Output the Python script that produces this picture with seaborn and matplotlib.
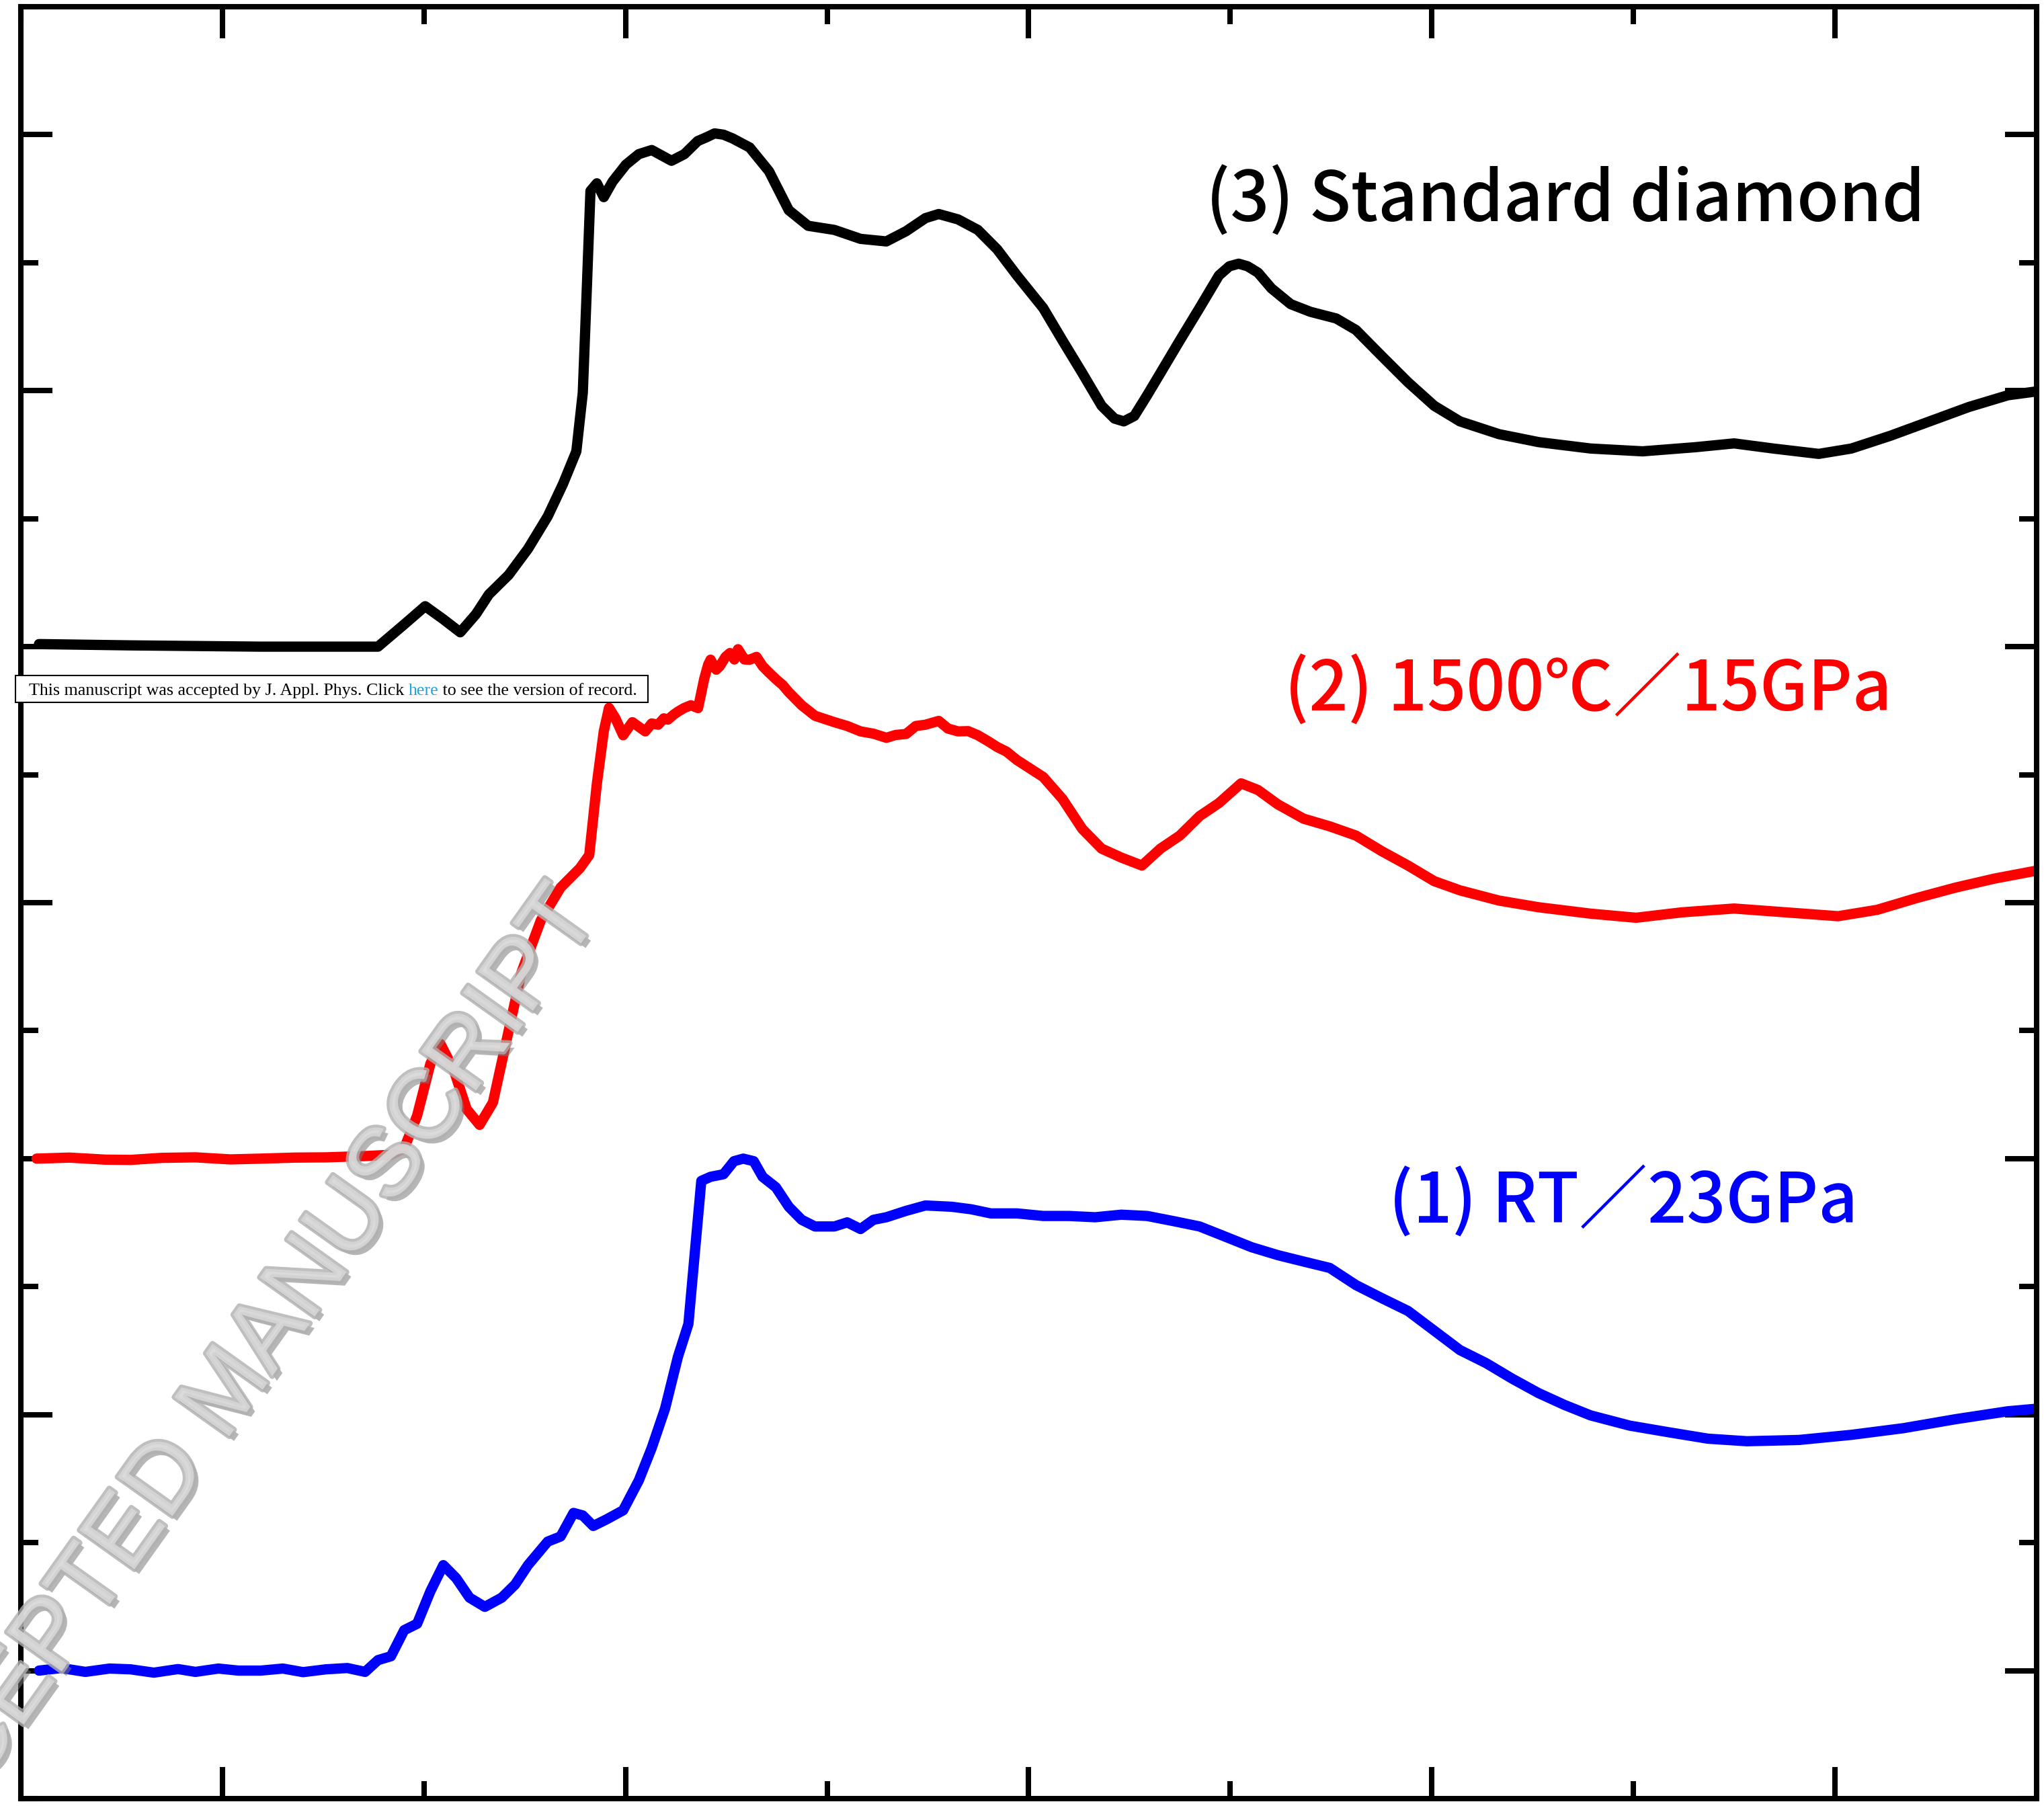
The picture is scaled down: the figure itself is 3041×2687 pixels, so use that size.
"""
C K-edge XANES of diamond samples, offset stack (3 spectra).
"""

import matplotlib

matplotlib.use("Agg")
import matplotlib.patheffects as pe
import matplotlib.pyplot as plt
import pandas as pd
import seaborn as sns
from matplotlib.patches import Rectangle
from matplotlib.ticker import MultipleLocator

# ── Data (photon energy in eV, normalised intensity) ─────────────────────────

STD_E = [275.45, 277.72, 280.95, 283.86, 284.51, 285.03, 285.48, 285.90, 286.29,
         286.61, 287.10, 287.58, 288.07, 288.45, 288.78, 288.94, 289.04, 289.13,
         289.29, 289.46, 289.68, 290.01, 290.33, 290.65, 291.14, 291.46, 291.79,
         292.01, 292.21, 292.43, 292.66, 293.08, 293.56, 294.05, 294.53, 295.18,
         295.83, 296.47, 296.96, 297.44, 297.77, 298.25, 298.74, 299.22, 299.71,
         300.36, 300.84, 301.33, 301.81, 302.13, 302.36, 302.62, 302.94, 303.27,
         303.75, 304.24, 304.72, 304.98, 305.21, 305.43, 305.69, 306.02, 306.50,
         306.99, 307.63, 308.12, 308.76, 309.41, 310.06, 310.70, 311.67, 312.65,
         313.94, 315.23, 316.53, 317.50, 318.47, 319.60, 320.41, 321.38, 322.35,
         323.32, 324.29, 325.00]
STD_I = [0.010, 0.005, 0.000, 0.000, 0.087, 0.158, 0.107, 0.056, 0.127,
         0.204, 0.280, 0.382, 0.509, 0.636, 0.763, 0.992, 1.400, 1.780,
         1.810, 1.756, 1.817, 1.883, 1.924, 1.940, 1.898, 1.924, 1.975,
         1.990, 2.005, 2.000, 1.985, 1.950, 1.857, 1.705, 1.644, 1.628,
         1.593, 1.583, 1.623, 1.674, 1.690, 1.669, 1.628, 1.552, 1.450,
         1.323, 1.196, 1.069, 0.941, 0.891, 0.880, 0.901, 0.982, 1.069,
         1.196, 1.323, 1.450, 1.486, 1.496, 1.486, 1.461, 1.400, 1.338,
         1.308, 1.282, 1.237, 1.135, 1.033, 0.941, 0.880, 0.830, 0.799,
         0.774, 0.763, 0.779, 0.794, 0.774, 0.753, 0.774, 0.824, 0.880,
         0.936, 0.982, 0.997]

HT_E = [275.39, 276.20, 277.10, 277.72, 278.50, 279.33, 280.20, 280.95, 281.80,
        282.57, 283.54, 284.18, 284.51, 284.83, 285.16, 285.41, 285.74, 286.06,
        286.38, 286.71, 287.10, 287.42, 287.90, 288.39, 288.87, 289.10, 289.29,
        289.46, 289.59, 289.75, 289.94, 290.17, 290.49, 290.65, 290.81, 290.95,
        291.05, 291.20, 291.30, 291.45, 291.62, 291.80, 291.95, 292.05, 292.11,
        292.25, 292.34, 292.48, 292.59, 292.70, 292.79, 292.95, 293.08, 293.25,
        293.40, 293.55, 293.73, 293.90, 294.05, 294.37, 294.70, 295.18, 295.50,
        295.83, 296.15, 296.47, 296.70, 296.96, 297.20, 297.44, 297.77, 298.00,
        298.25, 298.50, 298.74, 299.00, 299.22, 299.45, 299.71, 300.36, 300.84,
        301.33, 301.81, 302.30, 302.81, 303.27, 303.75, 304.24, 304.72, 305.27,
        305.69, 306.18, 306.82, 307.47, 308.12, 308.76, 309.41, 310.06, 310.70,
        311.67, 312.65, 313.94, 315.07, 316.20, 317.50, 318.79, 320.08, 321.05,
        322.03, 323.00, 323.96, 325.00]
HT_I = [0.000, 0.004, -0.004, -0.005, 0.003, 0.005, -0.003, 0.000, 0.004,
        0.005, 0.010, 0.015, 0.040, 0.168, 0.371, 0.448, 0.346, 0.193,
        0.132, 0.219, 0.499, 0.728, 0.931, 1.059, 1.135, 1.186, 1.466,
        1.669, 1.761, 1.720, 1.654, 1.705, 1.669, 1.700, 1.695, 1.720,
        1.715, 1.735, 1.746, 1.760, 1.771, 1.760, 1.873, 1.930, 1.949,
        1.910, 1.924, 1.960, 1.975, 1.950, 1.990, 1.950, 1.949, 1.960,
        1.924, 1.900, 1.873, 1.850, 1.822, 1.771, 1.730, 1.705, 1.690,
        1.669, 1.660, 1.644, 1.655, 1.659, 1.690, 1.695, 1.710, 1.680,
        1.669, 1.670, 1.654, 1.630, 1.608, 1.590, 1.557, 1.491, 1.405,
        1.288, 1.211, 1.176, 1.145, 1.211, 1.262, 1.338, 1.389, 1.466,
        1.440, 1.384, 1.328, 1.298, 1.262, 1.201, 1.145, 1.084, 1.048,
        1.008, 0.982, 0.957, 0.941, 0.962, 0.977, 0.962, 0.947, 0.972,
        1.018, 1.059, 1.094, 1.125]

RT_E = [275.45, 276.00, 276.60, 277.20, 277.72, 278.30, 278.90, 279.33, 279.90,
        280.40, 280.95, 281.50, 282.00, 282.57, 283.10, 283.54, 283.86, 284.18,
        284.51, 284.83, 285.16, 285.48, 285.80, 286.13, 286.51, 286.93, 287.26,
        287.58, 288.07, 288.39, 288.71, 288.94, 289.20, 289.52, 289.94, 290.33,
        290.65, 290.98, 291.30, 291.56, 291.72, 291.88, 292.11, 292.43, 292.69,
        292.92, 293.18, 293.40, 293.73, 294.05, 294.37, 294.70, 295.18, 295.50,
        295.83, 296.15, 296.47, 296.96, 297.44, 298.09, 298.58, 299.06, 299.71,
        300.36, 301.00, 301.65, 302.30, 302.94, 303.59, 304.24, 304.88, 305.53,
        306.18, 306.82, 307.47, 308.12, 308.76, 309.41, 310.06, 310.70, 311.35,
        312.00, 312.65, 313.29, 313.94, 314.91, 315.88, 316.85, 317.82, 319.11,
        320.41, 321.70, 322.99, 324.29, 325.00]
RT_I = [0.000, 0.010, -0.005, 0.008, 0.005, -0.008, 0.006, -0.005, 0.008,
        0.000, 0.000, 0.008, -0.006, 0.005, 0.010, -0.005, 0.041, 0.056,
        0.158, 0.183, 0.310, 0.412, 0.361, 0.285, 0.249, 0.285, 0.336,
        0.412, 0.504, 0.524, 0.616, 0.606, 0.565, 0.590, 0.626, 0.743,
        0.870, 1.023, 1.226, 1.354, 1.634, 1.913, 1.929, 1.939, 1.990,
        2.000, 1.990, 1.929, 1.888, 1.812, 1.761, 1.735, 1.735, 1.751,
        1.725, 1.761, 1.771, 1.796, 1.817, 1.812, 1.802, 1.786, 1.786,
        1.776, 1.776, 1.771, 1.781, 1.776, 1.756, 1.735, 1.695, 1.654,
        1.623, 1.598, 1.573, 1.506, 1.455, 1.405, 1.328, 1.252, 1.201,
        1.140, 1.084, 1.038, 0.997, 0.957, 0.931, 0.906, 0.896, 0.901,
        0.921, 0.947, 0.982, 1.013, 1.023]

SAMPLES = ["(3) Standard diamond", "(2) 1500℃／15GPa", "(1) RT／23GPa"]
OFFSETS = [4.0, 2.0, 0.0]
COLORS = ["#000000", "#ff0000", "#0000ff"]
# label anchor (energy, stacked intensity) at the text baseline
LABEL_POS = [(304.40, 5.66), (306.34, 3.75), (308.93, 1.75)]

LABEL_FONT = ["Noto Sans CJK JP", "DejaVu Sans"]


def build_frame() -> pd.DataFrame:
    frames = []
    for name, e, i, off in zip(SAMPLES, [STD_E, HT_E, RT_E], [STD_I, HT_I, RT_I], OFFSETS):
        frames.append(pd.DataFrame({"energy": e, "intensity": [v + off for v in i], "sample": name}))
    return pd.concat(frames, ignore_index=True)


def main() -> None:
    sns.set_theme(style="ticks")
    plt.rcParams["font.family"] = LABEL_FONT

    df = build_frame()

    fig = plt.figure(figsize=(30.41, 26.87), dpi=100)
    ax = fig.add_axes([0.0102, 0.0041, 0.9861, 0.9922])

    sns.lineplot(
        data=df, x="energy", y="intensity", hue="sample",
        palette=dict(zip(SAMPLES, COLORS)), hue_order=SAMPLES,
        estimator=None, sort=False, linewidth=11, legend=False, ax=ax,
    )
    for line in ax.get_lines():
        line.set_solid_joinstyle("round")
        line.set_solid_capstyle("round")

    ax.set_xlim(275, 325)
    ax.set_ylim(-0.5, 6.5)
    ax.xaxis.set_major_locator(MultipleLocator(10))
    ax.xaxis.set_minor_locator(MultipleLocator(5))
    ax.yaxis.set_major_locator(MultipleLocator(1))
    ax.yaxis.set_minor_locator(MultipleLocator(0.5))
    ax.tick_params(which="both", direction="in", top=True, right=True,
                   labelbottom=False, labelleft=False, width=5.8, color="black")
    ax.tick_params(which="major", length=34)
    ax.tick_params(which="minor", length=19)
    ax.set_xlabel("")
    ax.set_ylabel("")
    for sp in ax.spines.values():
        sp.set_linewidth(5.8)
        sp.set_color("black")

    for name, (x, y), c in zip(SAMPLES, LABEL_POS, COLORS):
        ax.text(x, y, name, color=c, fontsize=73.5, ha="left", va="baseline",
                family=LABEL_FONT, fontweight="medium")

    # watermark (embossed grey, drawn over the curves)
    fig.text(0.1224, 0.2209, "ACCEPTED MANUSCRIPT", rotation=54.5,
             rotation_mode="anchor", ha="center", va="baseline",
             fontsize=105, family="Liberation Sans", color="#dadada",
             alpha=0.8, zorder=10,
             path_effects=[
                 pe.SimplePatchShadow(offset=(5, -5), shadow_rgbFace="#7a7a7a", alpha=0.55),
                 pe.Stroke(linewidth=6, foreground="#b0b0b0"),
                 pe.Normal(),
             ])

    # manuscript notice box
    fig.patches.append(Rectangle(
        (23 / 3041, 1 - 1045 / 2687), (964 - 23) / 3041, 40 / 2687,
        transform=fig.transFigure, facecolor="white", edgecolor="black",
        linewidth=1.5, zorder=20,
    ))
    notice_kw = dict(fontsize=18.7, family="Liberation Serif", va="baseline", zorder=21)
    base_y = 1 - 1034 / 2687
    t1 = fig.text(43 / 3041, base_y,
                  "This manuscript was accepted by J. Appl. Phys. Click ",
                  color="black", **notice_kw)
    t2 = fig.text(0, base_y, "here", color="#1aa7e0", **notice_kw)
    fig.canvas.draw()
    r = fig.canvas.get_renderer()
    t2.set_x(t1.get_window_extent(r).x1 / fig.bbox.width)
    fig.text(t2.get_window_extent(r).x1 / fig.bbox.width, base_y,
             " to see the version of record.", color="black", **notice_kw)

    fig.savefig("out.png", dpi=100)
    plt.close(fig)


if __name__ == "__main__":
    main()
